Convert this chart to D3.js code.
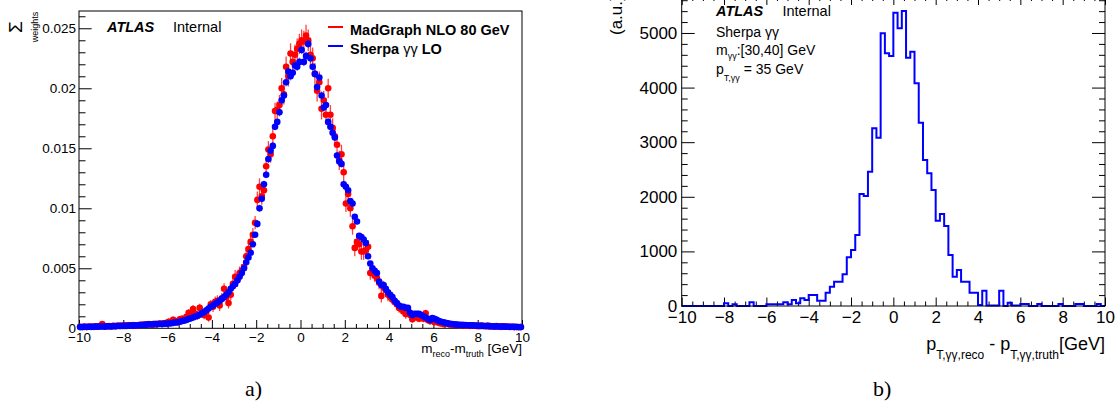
<!DOCTYPE html>
<html>
<head>
<meta charset="utf-8">
<script src="https://cdn.jsdelivr.net/npm/d3@7"></script>
<style>
  html, body { margin: 0; padding: 0; background: #fff; }
  svg { display: block; font-family: "Liberation Sans", Arial, Helvetica, sans-serif; }
</style>
</head>
<body>
<svg id="chart" width="1116" height="412"></svg>
<script>
// ---------------- DATA ----------------
// Panel a): m_reco - m_truth, bins of 0.1 GeV from -10 to 10 (values in units of 1e-4)
const massBinLow = d3.range(200).map(i => -10 + i * 0.1);
const madgraphVals = [
  1.2,1.0,1.5,1.1,1.4,1.3,1.2,1.6,1.4,1.8,
  3.5,1.5,1.7,1.9,1.5,2.1,1.8,2.2,1.9,2.3,
  2.4,2.0,2.6,2.3,2.8,2.5,2.2,3.0,2.9,3.1,
  3.0,3.6,3.3,2.9,3.8,3.5,4.0,3.7,4.2,4.5,
  5.5,4.5,7.0,6.0,5.0,7.5,8.0,6.5,9.5,13,
  11,16,12,10.5,17,12,11,14,9,20,
  18,22,23,19,25,33,26,21,28,37,
  43,40,46,48,51,60,66,72,78,88,
  107,118,110,115,135,149,145,160,181,182,
  186,200,195,218,210,229,222,228,233,237,
  240,239,244,240,228,225,212,198,205,183,
  190,178,200,178,167,160,153,140,145,130,
  104,112,100,85,67,72,70,64,64,65,
  68,46,47,44,42,38,27,34,32,28,
  26,24,22,20,17,16,14,12,15,11,
  7.5,9,10,8,9,8,12.5,7,6,6.5,
  5,5.5,4.5,4.0,3.5,3.8,4.2,3.0,3.2,2.8,
  3.0,2.6,2.5,2.8,2.3,2.4,2.0,2.6,2.1,2.0,
  1.8,2.2,1.9,1.7,2.3,1.5,1.7,1.4,1.9,1.5,
  1.2,1.6,1.3,1.4,1.1,1.3,1.0,1.2,0.9,1.1
];
const sherpaVals = [
  1.0,1.1,1.2,1.1,1.3,1.2,1.3,1.4,1.3,1.5,
  1.5,1.4,1.6,1.7,1.6,1.8,1.7,1.9,2.0,1.9,
  2.0,2.1,2.2,2.3,2.2,2.5,2.4,2.7,2.8,3.0,
  3.1,3.3,3.2,3.5,3.4,3.6,3.7,3.5,3.9,3.8,
  4.0,4.2,4.5,4.8,5.0,5.5,6.0,6.5,7.0,7.8,
  8.3,9.0,9.8,10.5,11.5,12.5,13.5,15.0,16.5,18.0,
  19,20.5,21.5,23,24.5,26,28,30,33,35,
  37,40,43,46,50,55,59,63,70,78,
  87,100,108,120,128,141,148,152,168,172,
  180,190,194,205,214,210,213,219,218,222,
  232,222,227,237,225,218,212,201,209,194,
  184,186,172,168,163,159,144,139,137,120,
  118,115,106,104,93,89,77,76,74,71,
  60,54,50,48,46,39,36,36,33,30,
  28,26,23,21,19,18,18,17,17,13,
  11,12,12,12,11,10,9,8,7,8.5,
  8,7,6,5.5,5,4.5,4.0,3.8,3.5,3.3,
  3.2,3.0,2.9,2.8,2.7,2.6,2.5,2.4,2.3,2.2,
  2.1,2.0,2.0,1.9,1.8,1.8,1.7,1.6,1.6,1.5,
  1.5,1.4,1.4,1.3,1.3,1.2,1.2,1.1,1.1,1.0
];
// error bar half-lengths per 1 GeV segment (units of 1e-4)
const madgraphErr = [1.2,1.2,1.3,2,2.8,3.5,4.5,5.5,7,8.5,9,8,7,5.5,4,3,2,1.5,1.2,1.2];
const sherpaErr   = [0.6,0.6,0.7,0.8,1,1.3,1.7,2.3,3,3.5,3.5,3,2.3,1.7,1.3,1,0.8,0.7,0.6,0.6];
const valueUnit = 1e-4;

const massXTicks = [-10,-8,-6,-4,-2,0,2,4,6,8,10];
const massYTicks = [0,0.005,0.01,0.015,0.02,0.025];
const legendLabels = ["MadGraph NLO 80 GeV", "Sherpa \u03b3\u03b3 LO"];

// Panel b): pT reco - truth, bins of 0.2 GeV from -10 to 10
const ptBinLow = d3.range(100).map(i => -10 + i * 0.2);
const ptCounts = [
  0,0,0,0,0,0,0,0,0,0,
  50,0,30,0,0,0,67,0,0,0,
  30,30,30,30,67,30,110,50,140,110,
  200,200,98,98,244,354,446,446,580,891,
  1026,1300,2051,2015,2460,3254,3083,4994,4628,4579,
  5372,5086,5403,4548,4658,4079,3357,2674,2430,2125,
  1563,1685,1465,934,537,659,446,446,244,244,
  20,280,10,10,10,280,0,61,10,10,
  37,37,0,0,37,0,0,0,0,37,
  0,0,0,37,37,0,0,0,37,0
];
const ptXTicks = [-10,-8,-6,-4,-2,0,2,4,6,8,10];
const ptYTicks = [0,1000,2000,3000,4000,5000];

// ---------------- DRAW ----------------
const svg = d3.select("#chart");
const RED = "#ff0000", BLUE = "#0000ff";

// ======== Panel a ========
const A = {l: 79, r: 522, t: 11, b: 328.3};
const xA = d3.scaleLinear().domain([-10, 10]).range([A.l, A.r]);
const yA = d3.scaleLinear().domain([0, 0.02644]).range([A.b, A.t]);
const gA = svg.append("g");

function styleAxis(g, fs) {
  g.select(".domain").remove();
  g.selectAll(".tick line").attr("stroke", "#000").attr("stroke-width", 1);
  g.selectAll(".tick text").attr("fill", "#000").attr("font-size", fs)
    .attr("font-family", "'Liberation Sans', Arial, Helvetica, sans-serif");
}

// minor ticks
const minorXA = d3.range(-10, 10.001, 0.5).filter(v => Math.abs(v / 2 - Math.round(v / 2)) > 1e-6);
gA.append("g").attr("transform", `translate(0,${A.b})`)
  .call(d3.axisBottom(xA).tickValues(minorXA).tickSize(-4.3).tickFormat(""))
  .call(g => styleAxis(g, 13.5));
gA.append("g").attr("transform", `translate(0,${A.b})`)
  .call(d3.axisBottom(xA).tickValues(massXTicks).tickSize(-8.3).tickPadding(4.5))
  .call(g => styleAxis(g, 13.5));
const minorYA = d3.range(0, 0.0265, 0.001).filter(v => Math.abs(v / 0.005 - Math.round(v / 0.005)) > 1e-6);
gA.append("g").attr("transform", `translate(${A.l},0)`)
  .call(d3.axisLeft(yA).tickValues(minorYA).tickSize(-6.5).tickFormat(""))
  .call(g => styleAxis(g, 13.5));
gA.append("g").attr("transform", `translate(${A.l},0)`)
  .call(d3.axisLeft(yA).tickValues(massYTicks).tickSize(-12.7).tickPadding(3)
        .tickFormat(d => d === 0 ? "0" : String(+d.toFixed(3))))
  .call(g => styleAxis(g, 13.5));

// frame
gA.append("rect").attr("x", A.l).attr("y", A.t).attr("width", A.r - A.l).attr("height", A.b - A.t)
  .attr("fill", "none").attr("stroke", "#000").attr("stroke-width", 1);

// data
function drawSeries(vals, errs, color, barColor, barOpacity) {
  const data = vals.map((v, i) => ({x: massBinLow[i] + 0.05, y: v * valueUnit, e: errs[Math.floor(i / 10)] * valueUnit}));
  const g = gA.append("g");
  g.selectAll("line.err").data(data).enter().append("line")
    .attr("x1", d => xA(d.x)).attr("x2", d => xA(d.x))
    .attr("y1", d => yA(Math.max(0, d.y - d.e))).attr("y2", d => yA(d.y + d.e))
    .attr("stroke", barColor).attr("stroke-opacity", barOpacity).attr("stroke-width", 1.3);
  g.selectAll("circle").data(data).enter().append("circle")
    .attr("cx", d => xA(d.x)).attr("cy", d => yA(d.y)).attr("r", 3.3).attr("fill", color);
}
drawSeries(madgraphVals, madgraphErr, RED, RED, 0.75);
drawSeries(sherpaVals, sherpaErr, BLUE, "#3322aa", 0.6);

// texts
gA.append("text").attr("x", 107).attr("y", 31.5).attr("font-size", 14.5)
  .attr("font-weight", "bold").attr("font-style", "italic").text("ATLAS");
gA.append("text").attr("x", 173).attr("y", 31.5).attr("font-size", 14.5).text("Internal");

// legend
[RED, BLUE].forEach((c, i) => {
  gA.append("line").attr("x1", 328).attr("x2", 343).attr("y1", 27 + i * 19).attr("y2", 27 + i * 19)
    .attr("stroke", c).attr("stroke-width", 2);
});
gA.append("text").attr("x", 350).attr("y", 35).attr("font-size", 14.5).attr("font-weight", "bold")
  .text(legendLabels[0]);
const l2 = gA.append("text").attr("x", 350).attr("y", 54).attr("font-size", 14.5).attr("font-weight", "bold");
l2.append("tspan").text("Sherpa ");
l2.append("tspan").attr("font-weight", "normal").text("\u03b3\u03b3");
l2.append("tspan").text(" LO");

// y title: Σ_weights rotated
const yt = gA.append("g").attr("transform", "translate(0,27) rotate(-90)");
yt.append("text").attr("x", 0).attr("y", 22).attr("text-anchor", "middle").attr("font-size", 19).text("\u03a3");
yt.append("text").attr("x", 0).attr("y", 38).attr("text-anchor", "middle").attr("font-size", 9).text("weights");

// x title
const xtA = gA.append("text").attr("x", A.r).attr("y", 352.5).attr("text-anchor", "end").attr("font-size", 13.5);
xtA.append("tspan").text("m");
xtA.append("tspan").attr("font-size", 9).attr("dy", 4).text("reco");
xtA.append("tspan").attr("dy", -4).text("-m");
xtA.append("tspan").attr("font-size", 9).attr("dy", 4).text("truth");
xtA.append("tspan").attr("dy", -4).text(" [GeV]");

// ======== Panel b ========
const B = {l: 681.7, r: 1105, t: -3.5, b: 306};
const xB = d3.scaleLinear().domain([-10, 10]).range([B.l, B.r]);
const yB = d3.scaleLinear().domain([0, 5668]).range([B.b, B.t]);
const gB = svg.append("g");

const minorXB = minorXA;
const minorYB = d3.range(0, 5700, 200).filter(v => v % 1000 !== 0);
// bottom
gB.append("g").attr("transform", `translate(0,${B.b})`)
  .call(d3.axisBottom(xB).tickValues(minorXB).tickSize(-4.5).tickFormat(""))
  .call(g => styleAxis(g, 17));
gB.append("g").attr("transform", `translate(0,${B.b})`)
  .call(d3.axisBottom(xB).tickValues(ptXTicks).tickSize(-8.5).tickPadding(4.5))
  .call(g => styleAxis(g, 17));
// top
gB.append("g").attr("transform", `translate(0,${B.t})`)
  .call(d3.axisTop(xB).tickValues(minorXB).tickSize(-4.5).tickFormat(""))
  .call(g => styleAxis(g, 17));
gB.append("g").attr("transform", `translate(0,${B.t})`)
  .call(d3.axisTop(xB).tickValues(ptXTicks).tickSize(-8.5).tickFormat(""))
  .call(g => styleAxis(g, 17));
// left
gB.append("g").attr("transform", `translate(${B.l},0)`)
  .call(d3.axisLeft(yB).tickValues(minorYB).tickSize(-6).tickFormat(""))
  .call(g => styleAxis(g, 17));
gB.append("g").attr("transform", `translate(${B.l},0)`)
  .call(d3.axisLeft(yB).tickValues(ptYTicks).tickSize(-13).tickPadding(4.4).tickFormat(d3.format("d")))
  .call(g => styleAxis(g, 17));
// right
gB.append("g").attr("transform", `translate(${B.r},0)`)
  .call(d3.axisRight(yB).tickValues(minorYB).tickSize(-6).tickFormat(""))
  .call(g => styleAxis(g, 17));
gB.append("g").attr("transform", `translate(${B.r},0)`)
  .call(d3.axisRight(yB).tickValues(ptYTicks).tickSize(-13).tickFormat(""))
  .call(g => styleAxis(g, 17));

// histogram
const histPts = ptBinLow.map((x, i) => [x, ptCounts[i]]);
histPts.push([10, ptCounts[ptCounts.length - 1]]);
gB.append("path").datum(histPts)
  .attr("d", d3.line().x(d => xB(d[0])).y(d => yB(d[1])).curve(d3.curveStepAfter))
  .attr("fill", "none").attr("stroke", BLUE).attr("stroke-width", 2);

// frame
gB.append("rect").attr("x", B.l).attr("y", B.t).attr("width", B.r - B.l).attr("height", B.b - B.t)
  .attr("fill", "none").attr("stroke", "#000").attr("stroke-width", 1);

// texts
gB.append("text").attr("x", 716).attr("y", 16.3).attr("font-size", 14.5)
  .attr("font-weight", "bold").attr("font-style", "italic").text("ATLAS");
gB.append("text").attr("x", 782.5).attr("y", 16.3).attr("font-size", 14.5).text("Internal");
gB.append("text").attr("x", 716).attr("y", 36.7).attr("font-size", 14).text("Sherpa \u03b3\u03b3");
const mt = gB.append("text").attr("x", 716).attr("y", 55).attr("font-size", 14);
mt.append("tspan").text("m");
mt.append("tspan").attr("font-size", 9).attr("dy", 3.5).text("\u03b3\u03b3");
mt.append("tspan").attr("dy", -3.5).text(":[30,40] GeV");
const pt = gB.append("text").attr("x", 716).attr("y", 73.5).attr("font-size", 14);
pt.append("tspan").text("p");
pt.append("tspan").attr("font-size", 9).attr("dy", 7).text("T,\u03b3\u03b3");
pt.append("tspan").attr("dy", -7).text(" = 35 GeV");

// y title (cut off at the top edge, as in the original)
gB.append("text").attr("transform", "translate(621.5,35) rotate(-90)").attr("font-size", 17).text("(a.u.)");

// x title
const xtB = gB.append("text").attr("x", B.r).attr("y", 350).attr("text-anchor", "end").attr("font-size", 18);
xtB.append("tspan").text("p");
xtB.append("tspan").attr("font-size", 12).attr("dy", 9).text("T,\u03b3\u03b3,reco");
xtB.append("tspan").attr("dy", -9).text(" - p");
xtB.append("tspan").attr("font-size", 12).attr("dy", 9).text("T,\u03b3\u03b3,truth");
xtB.append("tspan").attr("dy", -9).text("[GeV]");

// captions
svg.append("text").attr("x", 245).attr("y", 396).attr("font-size", 22)
  .attr("font-family", "'Liberation Serif', 'DejaVu Serif', serif").text("a)");
svg.append("text").attr("x", 873).attr("y", 396).attr("font-size", 22)
  .attr("font-family", "'Liberation Serif', 'DejaVu Serif', serif").text("b)");
</script>
</body>
</html>
